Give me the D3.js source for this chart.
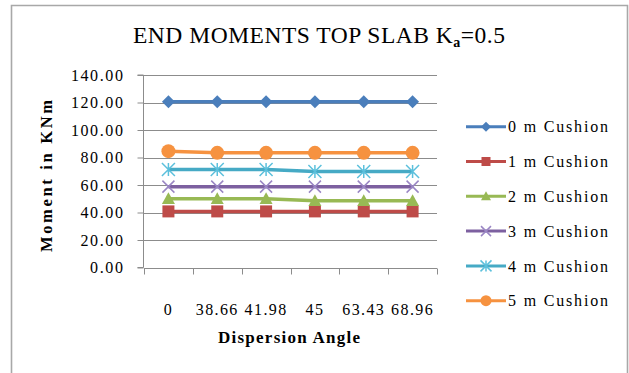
<!DOCTYPE html>
<html>
<head>
<meta charset="utf-8">
<script src="https://cdn.jsdelivr.net/npm/d3@7"></script>
<style>
  body { margin: 0; background: #fff; }
  svg text { font-family: "Liberation Serif", "Times New Roman", serif; fill: #000; }
</style>
</head>
<body>
<svg id="chart" width="629" height="373"></svg>
<script>
// Dispersion angles (categories on the x axis)
const categories = ["0", "38.66", "41.98", "45", "63.43", "68.96"];

// End moments (KNm) for each cushion depth
const seriesNames = ["0 m Cushion", "1 m Cushion", "2 m Cushion", "3 m Cushion", "4 m Cushion", "5 m Cushion"];
const cushion0m = [120.6, 120.6, 120.6, 120.6, 120.6, 120.6];
const cushion1m = [40.8, 40.8, 40.8, 40.8, 40.8, 40.8];
const cushion2m = [50.0, 50.0, 50.0, 48.5, 48.5, 48.5];
const cushion3m = [58.8, 58.8, 58.8, 58.8, 58.8, 58.8];
const cushion4m = [71.3, 71.3, 71.3, 69.8, 69.8, 69.8];
const cushion5m = [84.6, 83.4, 83.4, 83.4, 83.4, 83.4];

const yTicks = [0, 20, 40, 60, 80, 100, 120, 140];

const seriesValues = [cushion0m, cushion1m, cushion2m, cushion3m, cushion4m, cushion5m];
const colors = ["#4A7EBB", "#BE4B48", "#98B954", "#7D60A0", "#46AAC5", "#F69240"];
const markerTypes = ["diamond", "square", "triangle", "x", "star", "circle"];

const serif = '"Liberation Serif", "Times New Roman", serif';
const svg = d3.select("#chart");

// outer chart frame
svg.append("path")
  .attr("d", "M11.5,380 V5.5 H627.5 V380")
  .attr("fill", "none")
  .attr("stroke", "#a8a8a8")
  .attr("stroke-width", 1.6);

const plot = { left: 144, right: 437, top: 75, bottom: 267.5 };

const x = d3.scaleBand().domain(categories).range([plot.left, plot.right]).padding(0);
const y = d3.scaleLinear().domain([0, 140]).range([plot.bottom, plot.top]);

// horizontal gridlines
svg.append("g")
  .selectAll("line")
  .data(yTicks.filter(d => d > 0))
  .join("line")
  .attr("x1", plot.left).attr("x2", plot.right)
  .attr("y1", d => Math.round(y(d)) + 0.5).attr("y2", d => Math.round(y(d)) + 0.5)
  .attr("stroke", "#8c8c8c")
  .attr("stroke-width", 1);

// y axis
const yAxis = svg.append("g")
  .attr("transform", `translate(${plot.left - 0.5},0)`)
  .call(d3.axisLeft(y).tickValues(yTicks).tickFormat(d3.format(".2f")).tickSize(6).tickPadding(13));
yAxis.select(".domain").attr("stroke", "#8c8c8c").attr("d", `M-6,${y(0)}H0V${y(140)}H-6`);
yAxis.selectAll(".tick line").attr("stroke", "#8c8c8c");
yAxis.selectAll(".tick text")
  .attr("font-size", 16)
  .attr("letter-spacing", "1.6px")
  .style("font-family", serif)
  .attr("fill", "#000");

// x axis (labels centred on categories, tick marks between categories)
const xAxis = svg.append("g")
  .attr("transform", `translate(0,${Math.round(plot.bottom) + 0.5})`)
  .call(d3.axisBottom(x).tickSize(0).tickPadding(35));
xAxis.select(".domain").attr("stroke", "#8c8c8c").attr("d", `M${plot.left},0H${plot.right}`);
xAxis.selectAll(".tick text")
  .attr("font-size", 16)
  .attr("letter-spacing", "1.4px")
  .style("font-family", serif)
  .attr("fill", "#000");
const boundaries = categories.map(c => x(c)).concat([x.range()[1]]);
xAxis.append("g")
  .selectAll("line")
  .data(boundaries)
  .join("line")
  .attr("x1", d => Math.round(d) + 0.5).attr("x2", d => Math.round(d) + 0.5)
  .attr("y1", 0).attr("y2", 6)
  .attr("stroke", "#8c8c8c");

// marker drawing
function drawMarker(g, type, color, s) {
  const h = s / 2;
  if (type === "diamond") {
    g.append("path").attr("d", `M0,${-h}L${h},0L0,${h}L${-h},0Z`).attr("fill", color);
  } else if (type === "square") {
    g.append("rect").attr("x", -h).attr("y", -h).attr("width", s).attr("height", s).attr("fill", color);
  } else if (type === "triangle") {
    g.append("path").attr("d", `M0,${-h}L${h},${h * 0.8}L${-h},${h * 0.8}Z`).attr("fill", color);
  } else if (type === "x") {
    g.append("path").attr("d", `M${-h},${-h}L${h},${h}M${h},${-h}L${-h},${h}`)
      .attr("stroke", "#9a86c4").attr("stroke-width", 1.5).attr("fill", "none");
  } else if (type === "star") {
    g.append("path").attr("d", `M${-h},${-h}L${h},${h}M${h},${-h}L${-h},${h}M0,${-h}V${h}`)
      .attr("stroke", "#5cc0dc").attr("stroke-width", 1.5).attr("fill", "none");
  } else if (type === "circle") {
    g.append("circle").attr("r", h).attr("fill", color);
  }
}
const markerSizes = [13, 12, 13, 12, 13, 14];
const legendMarkerSizes = [10, 9, 10, 10, 11, 11];

// series lines and markers
const line = d3.line()
  .x((d, i) => x(categories[i]) + x.bandwidth() / 2)
  .y(d => y(d));

seriesValues.forEach((vals, s) => {
  const g = svg.append("g");
  g.append("path")
    .datum(vals)
    .attr("d", line)
    .attr("fill", "none")
    .attr("stroke", colors[s])
    .attr("stroke-width", 3.5)
    .attr("stroke-linejoin", "round");
  vals.forEach((v, i) => {
    const m = g.append("g")
      .attr("transform", `translate(${x(categories[i]) + x.bandwidth() / 2},${y(v)})`);
    drawMarker(m, markerTypes[s], colors[s], markerSizes[s]);
  });
});

// legend
const legend = svg.append("g").attr("transform", "translate(466,126.7)");
seriesNames.forEach((name, s) => {
  const row = legend.append("g").attr("transform", `translate(0,${s * 34.8})`);
  row.append("line").attr("x1", 0).attr("x2", 40).attr("y1", 0).attr("y2", 0)
    .attr("stroke", colors[s]).attr("stroke-width", 3);
  drawMarker(row.append("g").attr("transform", "translate(20,0)"), markerTypes[s], colors[s], legendMarkerSizes[s]);
  row.append("text")
    .attr("x", 42).attr("y", 5.6)
    .attr("font-size", 16)
    .style("font-family", serif)
    .attr("textLength", 100)
    .attr("lengthAdjust", "spacing")
    .text(name);
});

// chart title with subscript
const title = svg.append("text")
  .attr("x", 133).attr("y", 43.3)
  .attr("font-size", 23.5)
  .style("font-family", serif)
  .attr("textLength", 372)
  .attr("lengthAdjust", "spacing");
title.append("tspan").text("END MOMENTS TOP SLAB K");
title.append("tspan").attr("font-size", 14).attr("font-weight", "bold").attr("dy", 4).text("a");
title.append("tspan").attr("dy", -4).text("=0.5");

// axis titles
svg.append("text")
  .attr("x", 218).attr("y", 343)
  .attr("font-size", 17)
  .attr("font-weight", "bold")
  .style("font-family", serif)
  .attr("textLength", 142)
  .attr("lengthAdjust", "spacing")
  .text("Dispersion Angle");

svg.append("text")
  .attr("transform", "translate(52,252) rotate(-90)")
  .attr("font-size", 16.5)
  .attr("font-weight", "bold")
  .style("font-family", serif)
  .attr("textLength", 152)
  .attr("lengthAdjust", "spacing")
  .text("Moment in KNm");
</script>
</body>
</html>
